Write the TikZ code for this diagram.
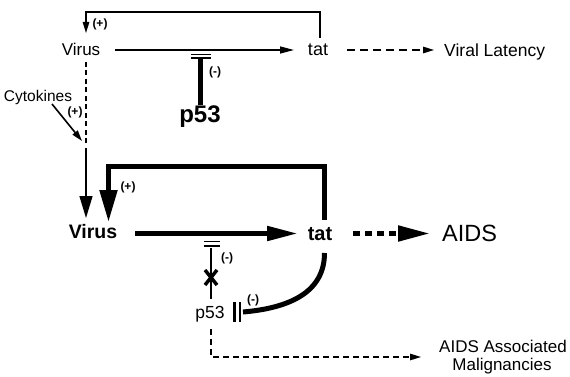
\documentclass[tikz,border=0pt]{standalone}
\usepackage{fontspec}
\setmainfont{Liberation Sans}
\usetikzlibrary{arrows.meta}
\begin{document}
\begin{tikzpicture}[x=1pt,y=-1pt,
  lbl/.style={inner sep=0pt,anchor=base},
  sgn/.style={inner sep=0pt,font=\fontsize{12}{12}\selectfont\bfseries},
  thinline/.style={line width=1.4pt},
  thickline/.style={line width=5pt},
  smallhead/.style={-{Triangle[length=11pt,width=6.5pt]}},
  bighead/.style={-{Triangle[length=31pt,width=14pt]}},
  dsh/.style={dash pattern=on 6pt off 4pt}]
\useasboundingbox (0,0) rectangle (570,377);
% ---------- top panel ----------
\node[lbl,font=\fontsize{17}{17}\selectfont] (virA) at (81,56) {Virus};
\node[lbl,font=\fontsize{18}{18}\selectfont] (tatA) at (318,56) {tat};
\node[lbl,font=\fontsize{17.5}{17.5}\selectfont,anchor=base west] (lat) at (444,57) {Viral Latency};
\node[lbl,font=\fontsize{24}{24}\selectfont\bfseries] (p53A) at (200,123) {p53};
\node[lbl,font=\fontsize{15.5}{15.5}\selectfont] (cyt) at (38,102) {Cytokines};
\node[sgn] (plA) at (100,24) {(+)};
\node[sgn] (miA) at (215,72) {(-)};
\node[sgn] (plC) at (75,112) {(+)};

\coordinate (tA1) at (320,38);
\coordinate (tA2) at (320,12);
\coordinate (tA3) at (86,12);
\coordinate (tA4) at (86,33);
\draw[thinline,smallhead] (tA1) -- (tA2) -- (tA3) -- (tA4);

\coordinate (vA1) at (115,50);
\coordinate (vA2) at (294,50);
\draw[thinline,-{Triangle[length=14pt,width=7pt]}] (vA1) -- (vA2);

\coordinate (lA1) at (347,50);
\coordinate (lA2) at (434,50);
\draw[thinline,dash pattern=on 8pt off 5pt,smallhead] (lA1) -- (lA2);

\coordinate (pA1) at (200,105);
\coordinate (pA2) at (200,58.5);
\draw[thickline] (pA1) -- (pA2);
\draw[line width=1.6pt] (190.5,54.5) -- (210.5,54.5) (190.5,57.8) -- (210.5,57.8);

\coordinate (dV1) at (86,62);
\coordinate (dV2) at (86,146);
\coordinate (dV3) at (86,148);
\coordinate (dV4) at (86,218);
\draw[thinline,dash pattern=on 5pt off 3.5pt] (dV1) -- (dV2);
\draw[thinline,-{Triangle[length=22pt,width=13pt]}] (dV3) -- (dV4);

\coordinate (c1) at (52,104);
\coordinate (c2) at (82,141);
\draw[line width=1.6pt,smallhead] (c1) -- (c2);

% ---------- bottom panel ----------
\node[lbl,font=\fontsize{19.5}{19.5}\selectfont\bfseries] (virB) at (93,238.5) {Virus};
\node[lbl,font=\fontsize{20}{20}\selectfont\bfseries] (tatB) at (320,240) {tat};
\node[lbl,font=\fontsize{23.5}{23.5}\selectfont,anchor=base west] (aids) at (442,241) {AIDS};
\node[lbl,font=\fontsize{17.5}{17.5}\selectfont] (p53B) at (210,318) {p53};
\node[lbl,font=\fontsize{17}{17}\selectfont] (mal1) at (503,352) {AIDS Associated};
\node[lbl,font=\fontsize{17}{17}\selectfont] (mal2) at (502,370) {Malignancies};
\node[sgn] (plB) at (128,187) {(+)};
\node[sgn] (miB) at (227,258) {(-)};
\node[sgn] (miC) at (253,300) {(-)};

\coordinate (fB1) at (324.5,220);
\coordinate (fB2) at (324.5,166);
\coordinate (fB3) at (108.5,166);
\coordinate (fB4) at (108.5,222);
\draw[thickline,-{Triangle[length=32pt,width=17pt]},line join=miter] (fB1) -- (fB2) -- (fB3) -- (fB4);

\coordinate (vB1) at (135,233.5);
\coordinate (vB2) at (298,233.5);
\draw[thickline,bighead] (vB1) -- (vB2);

\coordinate (aB1) at (353,233.5);
\coordinate (aB2) at (430,233.5);
\draw[thickline,dash pattern=on 7pt off 5pt,-{Triangle[length=32pt,width=15pt]}] (aB1) -- (aB2);

\coordinate (cB1) at (324.5,253);
\coordinate (cB2) at (243,312);
\draw[thickline] (cB1) .. controls (324.5,292) and (290,308) .. (cB2);
\draw[line width=2.2pt] (234.5,302) -- (234.5,322) (240,302) -- (240,322);

\coordinate (pB1) at (211,299);
\coordinate (pB2) at (211,248);
\draw[line width=1.2pt] (pB1) -- (pB2);
\draw[line width=1.6pt] (203.5,241.5) -- (219.5,241.5) (203.5,246) -- (219.5,246);
\draw[line width=3.5pt] (205,270) -- (217,285) (217,270) -- (205,285);

\coordinate (mB1) at (211,329);
\coordinate (mB2) at (211,357);
\coordinate (mB3) at (421,357);
\draw[thinline,dsh,smallhead] (mB1) -- (mB2) -- (mB3);
\end{tikzpicture}
\end{document}
